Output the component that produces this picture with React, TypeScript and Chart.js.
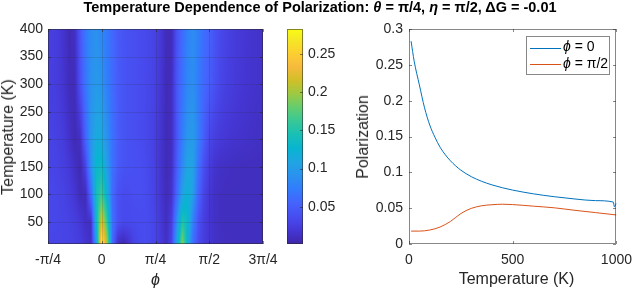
import React, { useEffect, useRef } from "react";
import { Chart, registerables } from "chart.js";

Chart.register(...registerables);

const FONT = '"Liberation Sans", Arial, Helvetica, sans-serif';
const TEXT_COLOR = "#262626";
const AXIS_COLOR = "rgba(38,38,38,0.55)";
const PI = Math.PI;

// ---------------- heat map data (phi in units of π/4, temperature in K) ----------------
const phiGridQuarterPi = [-1.0, -0.9, -0.8, -0.7, -0.6, -0.5, -0.4, -0.3, -0.2, -0.1, 0, 0.1, 0.2, 0.3, 0.4, 0.5, 0.6, 0.7, 0.8, 0.9, 1.0, 1.1, 1.2, 1.3, 1.4, 1.5, 1.6, 1.7, 1.8, 1.9, 2.0, 2.1, 2.2, 2.3, 2.4, 2.5, 2.6, 2.7, 2.8, 2.9, 3.0];
const heatTemps = [10, 50, 100, 150, 200, 300, 400];
const rowT10 = [0.03, 0.03, 0.03, 0.03, 0.029, 0.027, 0.024, 0.018, 0.01, 0.1, 0.28, 0.2, 0.06, 0.012, 0.004, 0.015, 0.028, 0.034, 0.036, 0.034, 0.03, 0.022, 0.012, 0.03, 0.11, 0.19, 0.12, 0.06, 0.035, 0.024, 0.018, 0.014, 0.012, 0.011, 0.01, 0.01, 0.01, 0.01, 0.01, 0.01, 0.01];
const rowT50 = [0.032, 0.032, 0.031, 0.03, 0.028, 0.025, 0.02, 0.012, 0.012, 0.13, 0.225, 0.16, 0.065, 0.04, 0.034, 0.034, 0.035, 0.036, 0.036, 0.034, 0.03, 0.02, 0.01, 0.025, 0.09, 0.15, 0.13, 0.075, 0.04, 0.025, 0.018, 0.013, 0.011, 0.01, 0.01, 0.01, 0.01, 0.01, 0.01, 0.01, 0.01];
const rowT100 = [0.032, 0.032, 0.03, 0.028, 0.024, 0.018, 0.008, 0.008, 0.06, 0.14, 0.165, 0.12, 0.06, 0.04, 0.035, 0.036, 0.038, 0.038, 0.037, 0.033, 0.027, 0.017, 0.008, 0.015, 0.06, 0.105, 0.125, 0.1, 0.055, 0.03, 0.019, 0.013, 0.011, 0.01, 0.01, 0.01, 0.01, 0.01, 0.01, 0.01, 0.01];
const rowT150 = [0.03, 0.03, 0.028, 0.025, 0.02, 0.012, 0.005, 0.03, 0.09, 0.13, 0.135, 0.1, 0.065, 0.048, 0.042, 0.04, 0.039, 0.038, 0.036, 0.032, 0.026, 0.016, 0.007, 0.012, 0.05, 0.085, 0.11, 0.105, 0.065, 0.038, 0.024, 0.016, 0.013, 0.012, 0.011, 0.011, 0.01, 0.01, 0.01, 0.01, 0.01];
const rowT200 = [0.028, 0.028, 0.026, 0.022, 0.014, 0.006, 0.012, 0.055, 0.095, 0.115, 0.113, 0.09, 0.065, 0.05, 0.043, 0.04, 0.038, 0.036, 0.034, 0.03, 0.025, 0.016, 0.007, 0.01, 0.045, 0.075, 0.097, 0.1, 0.075, 0.05, 0.032, 0.025, 0.021, 0.019, 0.017, 0.016, 0.015, 0.014, 0.013, 0.012, 0.012];
const rowT300 = [0.025, 0.025, 0.022, 0.016, 0.008, 0.008, 0.04, 0.068, 0.09, 0.098, 0.092, 0.075, 0.06, 0.049, 0.043, 0.04, 0.038, 0.036, 0.034, 0.031, 0.027, 0.018, 0.007, 0.01, 0.045, 0.065, 0.083, 0.088, 0.072, 0.058, 0.05, 0.04, 0.032, 0.027, 0.024, 0.021, 0.019, 0.017, 0.016, 0.015, 0.014];
const rowT400 = [0.025, 0.025, 0.022, 0.015, 0.006, 0.012, 0.045, 0.07, 0.085, 0.09, 0.081, 0.07, 0.058, 0.048, 0.042, 0.04, 0.038, 0.036, 0.034, 0.032, 0.028, 0.02, 0.008, 0.008, 0.04, 0.06, 0.078, 0.087, 0.075, 0.062, 0.054, 0.042, 0.034, 0.029, 0.025, 0.022, 0.02, 0.018, 0.016, 0.015, 0.014];
const heatRows = [rowT10, rowT50, rowT100, rowT150, rowT200, rowT300, rowT400];

const phiTickValues = [-PI / 4, 0, PI / 4, PI / 2, (3 * PI) / 4];
const phiTickLabels = ["-π/4", "0", "π/4", "π/2", "3π/4"];
const heatTempTicks = [50, 100, 150, 200, 250, 300, 350, 400];
const colorbarTicks = [0.05, 0.1, 0.15, 0.2, 0.25];
const colorLimits = [0.001, 0.283];

// ---------------- line chart data ----------------
const tempPhi0 = [10, 25, 50, 75, 100, 125, 150, 175, 200, 225, 250, 300, 350, 400, 450, 500, 600, 700, 800, 900, 985, 990, 1000];
const polPhi0 = [0.283, 0.255, 0.222, 0.19, 0.166, 0.149, 0.135, 0.1245, 0.116, 0.109, 0.103, 0.094, 0.0875, 0.0825, 0.0785, 0.0752, 0.07, 0.066, 0.0628, 0.0605, 0.0585, 0.052, 0.057];
const tempPhiHalfPi = [10, 50, 100, 150, 200, 250, 300, 350, 400, 450, 500, 600, 700, 800, 900, 1000];
const polPhiHalfPi = [0.018, 0.018, 0.0195, 0.0237, 0.0315, 0.0425, 0.0497, 0.0533, 0.0548, 0.0555, 0.055, 0.0528, 0.0505, 0.047, 0.0438, 0.0405];
const polTicks = [0, 0.05, 0.1, 0.15, 0.2, 0.25, 0.3];
const tempTicks = [0, 500, 1000];
const seriesLabels = ["0", "π/2"];
const seriesColors = ["#0072BD", "#D95319"];

// ---------------- parula colormap ----------------
const PARULA_POS = [0, 4, 8, 12, 16, 20, 24, 28, 32, 36, 40, 44, 48, 52, 56, 60, 63].map((i) => i / 63);
const PARULA_RGB = [
  [0.2422, 0.1504, 0.6603], [0.2706, 0.2147, 0.8364], [0.2813, 0.3006, 0.9414], [0.2699, 0.3892, 0.9906],
  [0.1963, 0.4847, 0.9892], [0.1687, 0.5703, 0.9359], [0.1248, 0.6459, 0.8883], [0.0297, 0.7082, 0.8163],
  [0.0964, 0.75, 0.712], [0.2161, 0.7843, 0.5923], [0.3909, 0.8029, 0.4354], [0.6174, 0.7876, 0.2612],
  [0.8203, 0.7498, 0.1535], [0.9728, 0.7298, 0.2394], [0.9892, 0.8136, 0.1885], [0.9597, 0.9135, 0.1423],
  [0.9769, 0.9839, 0.0805],
];
function parula(t: number): number[] {
  const v = Math.max(0, Math.min(1, t));
  let i = 0;
  while (i < PARULA_POS.length - 2 && v > PARULA_POS[i + 1]) i++;
  const f = (v - PARULA_POS[i]) / (PARULA_POS[i + 1] - PARULA_POS[i]);
  const a = PARULA_RGB[i], b = PARULA_RGB[i + 1];
  return [0, 1, 2].map((k) => Math.round((a[k] + (b[k] - a[k]) * f) * 255));
}
function colorOf(v: number) {
  return parula((v - colorLimits[0]) / (colorLimits[1] - colorLimits[0]));
}

function locate(arr: number[], v: number): [number, number, number] {
  const n = arr.length;
  if (v <= arr[0]) return [0, 0, 0];
  if (v >= arr[n - 1]) return [n - 1, n - 1, 0];
  let i = 0;
  while (i < n - 2 && v > arr[i + 1]) i++;
  return [i, i + 1, (v - arr[i]) / (arr[i + 1] - arr[i])];
}
function sampleHeat(u: number, T: number) {
  const [c0, c1, fx] = locate(phiGridQuarterPi, u);
  const [r0, r1, fy] = locate(heatTemps, T);
  const a = heatRows[r0][c0] * (1 - fx) + heatRows[r0][c1] * fx;
  const b = heatRows[r1][c0] * (1 - fx) + heatRows[r1][c1] * fx;
  return a * (1 - fy) + b * fy;
}

// ---------------- helpers ----------------
function drawFrame(chart: any, xVals: number[], yVals: number[], opts: { grid?: boolean; tickLen: number; sides?: string }) {
  const { ctx, chartArea, scales } = chart;
  const L = Math.round(chartArea.left), T = Math.round(chartArea.top);
  const R = Math.round(chartArea.right), B = Math.round(chartArea.bottom);
  ctx.save();
  ctx.lineWidth = 1;
  if (opts.grid) {
    ctx.strokeStyle = "rgba(38,38,38,0.15)";
    ctx.beginPath();
    xVals.forEach((v) => {
      const p = Math.round(scales.x.getPixelForValue(v)) + 0.5;
      if (p > L + 1 && p < R - 1) { ctx.moveTo(p, T); ctx.lineTo(p, B); }
    });
    yVals.forEach((v) => {
      const p = Math.round(scales.y.getPixelForValue(v)) + 0.5;
      if (p > T + 1 && p < B - 1) { ctx.moveTo(L, p); ctx.lineTo(R, p); }
    });
    ctx.stroke();
  }
  ctx.strokeStyle = AXIS_COLOR;
  ctx.strokeRect(L + 0.5, T + 0.5, R - L - 1, B - T - 1);
  ctx.beginPath();
  const sides = opts.sides || "lrtb";
  xVals.forEach((v) => {
    const p = Math.round(scales.x.getPixelForValue(v)) + 0.5;
    if (sides.includes("b")) { ctx.moveTo(p, B); ctx.lineTo(p, B - opts.tickLen); }
    if (sides.includes("t")) { ctx.moveTo(p, T); ctx.lineTo(p, T + opts.tickLen); }
  });
  yVals.forEach((v) => {
    const p = Math.round(scales.y.getPixelForValue(v)) + 0.5;
    if (sides.includes("l")) { ctx.moveTo(L, p); ctx.lineTo(L + opts.tickLen, p); }
    if (sides.includes("r")) { ctx.moveTo(R, p); ctx.lineTo(R - opts.tickLen, p); }
  });
  ctx.stroke();
  ctx.restore();
}

const fixHeight = (h: number) => (s: any) => { s.height = h; };
const fixWidth = (w: number) => (s: any) => { s.width = w; };
const tickFont = { family: FONT, size: 14 };

const heatmapPlugin = {
  id: "heatmapCells",
  beforeDatasetsDraw(chart: any) {
    const { ctx, chartArea, scales } = chart;
    const L = Math.round(chartArea.left), T = Math.round(chartArea.top);
    const w = Math.round(chartArea.right) - L, h = Math.round(chartArea.bottom) - T;
    const off = document.createElement("canvas");
    off.width = w; off.height = h;
    const octx = off.getContext("2d")!;
    const img = octx.createImageData(w, h);
    for (let j = 0; j < h; j++) {
      const temp = scales.y.getValueForPixel(T + j + 0.5);
      for (let i = 0; i < w; i++) {
        const phi = scales.x.getValueForPixel(L + i + 0.5);
        const c = colorOf(sampleHeat(phi / (PI / 4), temp));
        const k = (j * w + i) * 4;
        img.data[k] = c[0]; img.data[k + 1] = c[1]; img.data[k + 2] = c[2]; img.data[k + 3] = 255;
      }
    }
    octx.putImageData(img, 0, 0);
    ctx.drawImage(off, L, T);
  },
  afterDraw(chart: any) {
    drawFrame(chart, phiTickValues, heatTempTicks, { grid: true, tickLen: 3 });
  },
};

const colorbarPlugin = {
  id: "colorbarFill",
  beforeDatasetsDraw(chart: any) {
    const { ctx, chartArea, scales } = chart;
    const L = Math.round(chartArea.left), T = Math.round(chartArea.top);
    const w = Math.round(chartArea.right) - L, h = Math.round(chartArea.bottom) - T;
    for (let j = 0; j < h; j++) {
      const c = colorOf(scales.y.getValueForPixel(T + j + 0.5));
      ctx.fillStyle = `rgb(${c[0]},${c[1]},${c[2]})`;
      ctx.fillRect(L, T + j, w, 1);
    }
  },
  afterDraw(chart: any) {
    drawFrame(chart, [], colorbarTicks, { tickLen: 3, sides: "r" });
  },
};

const linePlugin = {
  id: "lineFrameLegend",
  afterDraw(chart: any) {
    drawFrame(chart, tempTicks, polTicks, { tickLen: 3 });
    const { ctx, chartArea } = chart;
    const bw = 83, bh = 38;
    const bx = Math.round(chartArea.right) - 7 - bw, by = Math.round(chartArea.top) + 7;
    ctx.save();
    ctx.fillStyle = "#fff";
    ctx.fillRect(bx, by, bw, bh);
    ctx.strokeStyle = AXIS_COLOR;
    ctx.lineWidth = 1;
    ctx.strokeRect(bx + 0.5, by + 0.5, bw, bh);
    chart.data.datasets.forEach((ds: any, i: number) => {
      const yy = by + 11.5 + i * 16.5;
      ctx.strokeStyle = ds.borderColor;
      ctx.beginPath();
      ctx.moveTo(bx + 4, Math.round(yy) + 0.5);
      ctx.lineTo(bx + 35, Math.round(yy) + 0.5);
      ctx.stroke();
      ctx.fillStyle = "#000";
      ctx.textBaseline = "middle";
      ctx.font = `italic 14px ${FONT}`;
      const sym = "ϕ";
      ctx.fillText(sym, bx + 37, yy);
      const sw = ctx.measureText(sym).width;
      ctx.font = `14px ${FONT}`;
      ctx.fillText(" = " + seriesLabels[i], bx + 37 + sw, yy);
    });
    ctx.restore();
  },
};

export default function App() {
  const heatRef = useRef<HTMLCanvasElement>(null);
  const cbarRef = useRef<HTMLCanvasElement>(null);
  const lineRef = useRef<HTMLCanvasElement>(null);

  useEffect(() => {
    const charts: Chart[] = [];
    charts.push(
      new Chart(heatRef.current!, {
        type: "scatter",
        data: { datasets: [] },
        options: {
          responsive: false,
          animation: false,
          events: [],
          layout: { padding: { left: 0, right: 377, top: 29, bottom: 0 } },
          plugins: { legend: { display: false }, tooltip: { enabled: false } },
          scales: {
            x: {
              type: "linear", min: -PI / 4, max: (3 * PI) / 4,
              grid: { display: false, drawTicks: false }, border: { display: false },
              afterBuildTicks: (s: any) => { s.ticks = phiTickValues.map((v) => ({ value: v })); },
              afterFit: fixHeight(45),
              ticks: { callback: (_v: any, i: number) => phiTickLabels[i], padding: 8, color: TEXT_COLOR, font: tickFont, autoSkip: false, maxRotation: 0 },
            },
            y: {
              type: "linear", min: 10, max: 400,
              grid: { display: false, drawTicks: false }, border: { display: false },
              afterBuildTicks: (s: any) => { s.ticks = heatTempTicks.map((v) => ({ value: v })); },
              afterFit: fixWidth(48),
              ticks: { callback: (v: any) => String(v), padding: 5, color: TEXT_COLOR, font: tickFont, autoSkip: false },
            },
          },
        } as any,
        plugins: [heatmapPlugin],
      })
    );
    charts.push(
      new Chart(cbarRef.current!, {
        type: "scatter",
        data: { datasets: [] },
        options: {
          responsive: false,
          animation: false,
          events: [],
          layout: { padding: { left: 287, right: 0, top: 29, bottom: 45 } },
          plugins: { legend: { display: false }, tooltip: { enabled: false } },
          scales: {
            x: { type: "linear", min: 0, max: 1, display: false },
            y: {
              type: "linear", position: "right", min: colorLimits[0], max: colorLimits[1],
              grid: { display: false, drawTicks: false }, border: { display: false },
              afterBuildTicks: (s: any) => { s.ticks = colorbarTicks.map((v) => ({ value: v })); },
              afterFit: fixWidth(337),
              ticks: { callback: (v: any) => String(+Number(v).toFixed(2)), padding: 5, color: TEXT_COLOR, font: tickFont, autoSkip: false },
            },
          },
        } as any,
        plugins: [colorbarPlugin],
      })
    );
    charts.push(
      new Chart(lineRef.current!, {
        type: "scatter",
        data: {
          datasets: [
            {
              label: "phi0",
              data: tempPhi0.map((t, i) => ({ x: t, y: polPhi0[i] })),
              showLine: true, borderColor: seriesColors[0], borderWidth: 1, pointRadius: 0,
              cubicInterpolationMode: "monotone",
            },
            {
              label: "phiHalfPi",
              data: tempPhiHalfPi.map((t, i) => ({ x: t, y: polPhiHalfPi[i] })),
              showLine: true, borderColor: seriesColors[1], borderWidth: 1, pointRadius: 0,
              cubicInterpolationMode: "monotone",
            },
          ],
        },
        options: {
          responsive: false,
          animation: false,
          events: [],
          layout: { padding: { left: 0, right: 16, top: 29, bottom: 0 } },
          plugins: { legend: { display: false }, tooltip: { enabled: false } },
          scales: {
            x: {
              type: "linear", min: 0, max: 1000,
              grid: { display: false, drawTicks: false }, border: { display: false },
              afterBuildTicks: (s: any) => { s.ticks = tempTicks.map((v) => ({ value: v })); },
              afterFit: fixHeight(45),
              ticks: { callback: (v: any) => String(v), padding: 8, color: TEXT_COLOR, font: tickFont, autoSkip: false, maxRotation: 0 },
            },
            y: {
              type: "linear", min: 0, max: 0.3,
              grid: { display: false, drawTicks: false }, border: { display: false },
              afterBuildTicks: (s: any) => { s.ticks = polTicks.map((v) => ({ value: v })); },
              afterFit: fixWidth(409),
              ticks: { callback: (v: any) => String(+Number(v).toFixed(2)), padding: 6, color: TEXT_COLOR, font: tickFont, autoSkip: false },
            },
          },
        } as any,
        plugins: [linePlugin],
      })
    );
    return () => charts.forEach((c) => c.destroy());
  }, []);

  const abs: React.CSSProperties = { position: "absolute", left: 0, top: 0 };
  const label: React.CSSProperties = {
    position: "absolute", whiteSpace: "nowrap", fontFamily: FONT, fontSize: 16, color: TEXT_COLOR, lineHeight: "18px",
  };
  return (
    <div style={{ position: "absolute", left: 0, top: 0, width: 640, height: 289, background: "#fff", overflow: "hidden" }}>
      <canvas ref={heatRef} width={640} height={289} style={abs} />
      <canvas ref={cbarRef} width={640} height={289} style={abs} />
      <canvas ref={lineRef} width={640} height={289} style={abs} />
      <div style={{ position: "absolute", left: 0, top: -2, width: 640, textAlign: "center", fontFamily: FONT, fontWeight: "bold", fontSize: 14.5, lineHeight: "18px", color: "#000", whiteSpace: "nowrap" }}>
        Temperature Dependence of Polarization: <i>θ</i> = π/4, <i>η</i> = π/2, ΔG = -0.01
      </div>
      <div style={{ ...label, left: 7.5, top: 136.5, transform: "translate(-50%,-50%) rotate(-90deg)" }}>Temperature (K)</div>
      <div style={{ ...label, left: 155.5, top: 280, transform: "translate(-50%,-50%)", fontStyle: "italic" }}>ϕ</div>
      <div style={{ ...label, left: 362.5, top: 136.5, transform: "translate(-50%,-50%) rotate(-90deg)" }}>Polarization</div>
      <div style={{ ...label, left: 516.5, top: 279, transform: "translate(-50%,-50%)" }}>Temperature (K)</div>
    </div>
  );
}
